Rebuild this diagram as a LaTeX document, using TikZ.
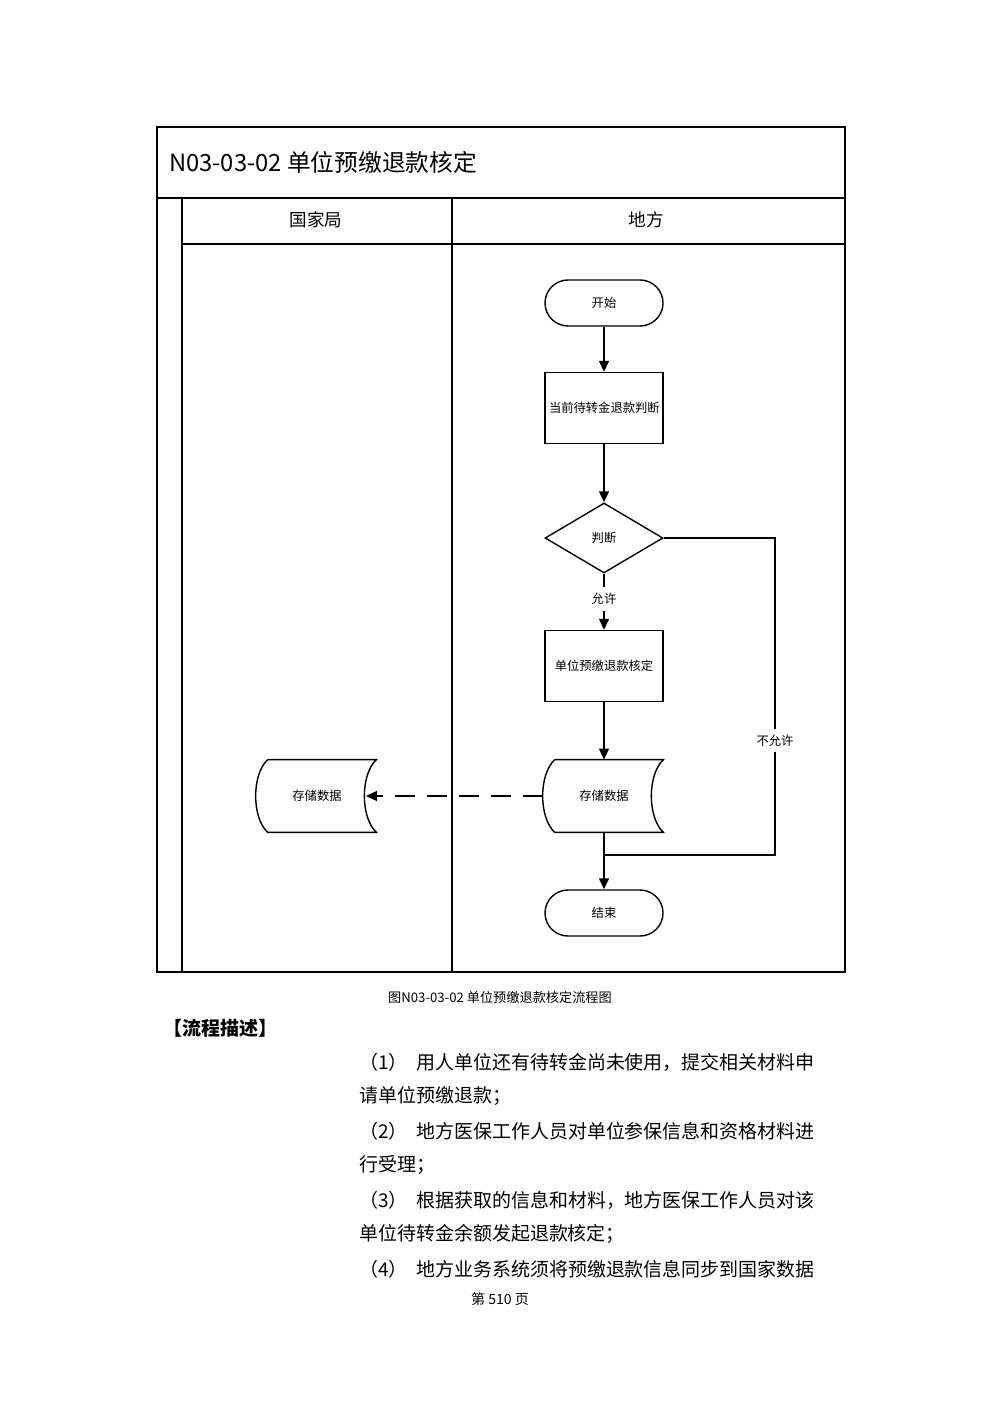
\documentclass[tikz,border=0pt]{standalone}
\usepackage{fontspec}
\setmainfont{Noto Sans CJK SC}
\usetikzlibrary{shapes.geometric,arrows.meta}
\tikzset{
  box/.style={draw, thick, fill=white, minimum width=23.6mm, minimum height=14.2mm, align=center, font=\fontsize{7}{8.5}\selectfont, inner sep=1pt, text width=22mm},
  term/.style={box, rounded corners=4.6mm, minimum height=9.2mm},
  decide/.style={diamond, draw, thick, minimum width=23.6mm, minimum height=14mm, inner sep=0pt, font=\fontsize{7}{8.5}\selectfont},
  store/.style={minimum width=23.6mm, minimum height=14.4mm, font=\fontsize{7}{8.5}\selectfont},
  flow/.style={thick, -{Triangle[length=2.2mm,width=2mm]}},
  para/.style={anchor=west, font=\fontsize{10.8}{13}\selectfont}
}
% stored data outline
\newcommand\storeshape[1]{%
  \draw[thick] ([xshift=2mm]#1.north west) -- (#1.north east)
    .. controls ([xshift=-3.2mm,yshift=-3mm]#1.north east) and ([xshift=-3.2mm,yshift=3mm]#1.south east) .. (#1.south east)
    -- ([xshift=2mm]#1.south west)
    .. controls ([xshift=-1.2mm,yshift=3mm]#1.south west) and ([xshift=-1.2mm,yshift=-3mm]#1.north west) .. ([xshift=2mm]#1.north west);}
\begin{document}
\begin{tikzpicture}[x=0.2mm,y=-0.2mm]
    \useasboundingbox (0,0) rectangle (1000,1415);

    % Rahmen und Bahnen
    \draw[thick] (157,127) rectangle (845,972);
    \draw[thick] (157,198) -- (845,198);
    \draw[thick] (182,198) -- (182,972);
    \draw[thick] (182,244) -- (845,244);
    \draw[thick] (452,198) -- (452,972);
    \node[anchor=west, font=\fontsize{13.5}{15}\selectfont] (title) at (163,162) {N03-03-02 单位预缴退款核定};
    \node[font=\fontsize{10}{12}\selectfont] (laneA) at (316,220) {国家局};
    \node[font=\fontsize{10}{12}\selectfont] (laneB) at (646,220) {地方};

    % Ablauf
    \node[term] (start) at (604,303) {开始};
    \node[box] (judge) at (604,408) {当前待转金退款判断};
    \node[decide] (dec) at (604,538) {判断};
    \node[box] (check) at (604,666) {单位预缴退款核定};
    \node[store] (storeB) at (604,796) {存储数据};
    \node[store] (storeA) at (317,796) {存储数据};
    \storeshape{storeB}
    \storeshape{storeA}
    \node[term] (end) at (604,913) {结束};
    \coordinate (tipA) at (366,796);
    \coordinate (turn) at (775,538);
    \coordinate (back) at (775,855);
    \coordinate (join) at (604,855);

    \draw[flow] (start) -- (judge);
    \draw[flow] (judge) -- (dec);
    \draw[flow] (dec) -- node[fill=white, font=\fontsize{7}{8.5}\selectfont, pos=0.45] {允许} (check);
    \draw[flow] (check) -- (storeB);
    \draw[flow] (storeB) -- (end);
    \draw[thick, dashed, dash pattern=on 4mm off 2.4mm, -{Triangle[length=2.2mm,width=2mm]}] ([xshift=-0.4mm]storeB.west) -- (tipA);
    \draw[thick] (dec.east) -- (turn) -- node[fill=white, font=\fontsize{7}{8.5}\selectfont, pos=0.64] {不允许} (back) -- (join);

    % Text darunter
    \node[font=\fontsize{7.5}{9}\selectfont] (cap) at (500,997) {图N03-03-02 单位预缴退款核定流程图};
    \node[anchor=west, font=\bfseries\fontsize{10.8}{13}\selectfont] (head) at (157,1028) {【流程描述】};
    \node[para] (p1) at (353,1062) {（1）\ \ 用人单位还有待转金尚未使用，提交相关材料申};
    \node[para] (p1b) at (353,1096) {请单位预缴退款；};
    \node[para] (p2) at (353,1131) {（2）\ \ 地方医保工作人员对单位参保信息和资格材料进};
    \node[para] (p2b) at (353,1165) {行受理；};
    \node[para] (p3) at (353,1200) {（3）\ \ 根据获取的信息和材料，地方医保工作人员对该};
    \node[para] (p3b) at (353,1234) {单位待转金余额发起退款核定；};
    \node[para] (p4) at (353,1269) {（4）\ \ 地方业务系统须将预缴退款信息同步到国家数据};
    \node[font=\fontsize{8}{10}\selectfont] (page) at (500,1299) {第 510 页};
\end{tikzpicture}
\end{document}
